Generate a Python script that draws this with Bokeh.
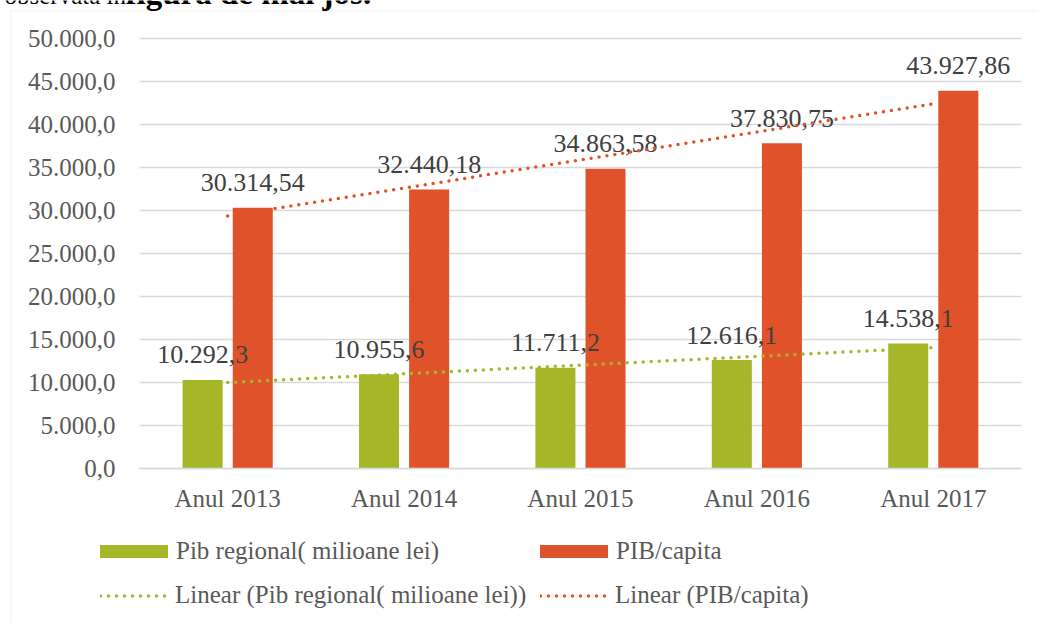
from bokeh.plotting import figure
from bokeh.models import (ColumnDataSource, Range1d, FixedTicker, Legend, LegendItem,
                          BoxAnnotation, Label)
from bokeh.transform import dodge
from bokeh.core.properties import value
from bokeh.embed import file_html
from bokeh.resources import INLINE
import numpy as np

# ---- data ----
categories = ["Anul 2013", "Anul 2014", "Anul 2015", "Anul 2016", "Anul 2017"]
pib_regional = [10292.3, 10955.6, 11711.2, 12616.1, 14538.1]
pib_capita = [30314.54, 32440.18, 34863.58, 37830.75, 43927.86]
pib_regional_labels = ["10.292,3", "10.955,6", "11.711,2", "12.616,1", "14.538,1"]
pib_capita_labels = ["30.314,54", "32.440,18", "34.863,58", "37.830,75", "43.927,86"]
y_ticks = [0, 5000, 10000, 15000, 20000, 25000, 30000, 35000, 40000, 45000, 50000]
y_tick_labels = ["0,0", "5.000,0", "10.000,0", "15.000,0", "20.000,0", "25.000,0",
                 "30.000,0", "35.000,0", "40.000,0", "45.000,0", "50.000,0"]
series_names = ["Pib regional( milioane lei)", "PIB/capita"]
trend_names = ["Linear (Pib regional( milioane lei))", "Linear (PIB/capita)"]
heading_regular = "observată în "
heading_bold = "figura de mai jos."

# category positions on the x scale (1..n) and linear trendlines (least squares)
xi = np.arange(1, len(categories) + 1)
reg_trend = np.polyval(np.polyfit(xi, pib_regional, 1), xi)
cap_trend = np.polyval(np.polyfit(xi, pib_capita, 1), xi)

GREEN = "#A5B729"
ORANGE = "#E0532A"
GRID = "#D9D9D9"
FONT = "Liberation Serif"

src = ColumnDataSource(dict(xi=xi, reg=pib_regional, cap=pib_capita,
                            reg_lbl=pib_regional_labels, cap_lbl=pib_capita_labels,
                            reg_trend=reg_trend, cap_trend=cap_trend))

W, H = 1037, 623
p = figure(x_range=Range1d(-0.288, 5.591), y_range=Range1d(-18023, 54419),
           width=W, height=H, min_border=0,
           output_backend="svg", toolbar_location=None)
p.title.visible = False
p.outline_line_color = None
p.background_fill_color = "white"
p.border_fill_color = "white"

# y axis (drawn at the left edge of the plot area)
p.yaxis.fixed_location = 0.5
p.yaxis.bounds = (0, 50000)
p.yaxis.ticker = FixedTicker(ticks=y_ticks)
p.yaxis.major_label_overrides = {t: l for t, l in zip(y_ticks, y_tick_labels)}
p.yaxis.axis_line_color = None
p.yaxis.major_tick_line_color = None
p.yaxis.minor_tick_line_color = None
p.yaxis.major_tick_out = 0
p.yaxis.major_label_standoff = 24
p.yaxis.major_label_text_font = FONT
p.yaxis.major_label_text_font_size = "25px"
p.yaxis.major_label_text_color = "#595959"

# x axis (categories, drawn at y = 0)
p.xaxis.fixed_location = 0
p.xaxis.bounds = (0.5, 5.5)
p.xaxis.ticker = FixedTicker(ticks=list(xi))
p.xaxis.major_label_overrides = {int(i): c for i, c in zip(xi, categories)}
p.xaxis.axis_line_color = GRID
p.xaxis.axis_line_width = 1.5
p.xaxis.major_tick_line_color = None
p.xaxis.minor_tick_line_color = None
p.xaxis.major_tick_out = 0
p.xaxis.major_label_standoff = 16
p.xaxis.major_label_text_font = FONT
p.xaxis.major_label_text_font_size = "25px"
p.xaxis.major_label_text_color = "#595959"

p.xgrid.grid_line_color = None
yg = p.ygrid[0]
if "cross_bounds" in yg.properties():
    yg.cross_bounds = (0.5, 5.5)
    yg.grid_line_color = GRID
    yg.grid_line_width = 1.5
else:
    yg.grid_line_color = None
    p.segment(x0=0.5, x1=5.5, y0=y_ticks, y1=y_ticks, line_color=GRID, line_width=1.5,
              level="underlay")

off = 0.142
bw = 0.227
r1 = p.vbar(x=dodge("xi", -off), top="reg", width=bw, source=src,
            fill_color=GREEN, line_color=None)
r2 = p.vbar(x=dodge("xi", off), top="cap", width=bw, source=src,
            fill_color=ORANGE, line_color=None)

for xo, col in ((-off, "reg"), (off, "cap")):
    p.text(x=dodge("xi", xo), y=col, text=col + "_lbl", source=src,
           text_align="center", text_baseline="middle", y_offset=-25,
           text_font=value(FONT), text_font_size="26px", text_color="#404040")

t1 = p.line(x="xi", y="reg_trend", source=src, line_color=GREEN, line_width=3.5,
            line_dash="0 8", line_cap="round")
t2 = p.line(x="xi", y="cap_trend", source=src, line_color=ORANGE, line_width=3.5,
            line_dash="0 8", line_cap="round")

# legend: two rows (bars / trendlines), two aligned columns
leg_kw = dict(border_line_color=None, background_fill_alpha=0, padding=0, margin=0,
              orientation="horizontal", spacing=0, label_height=30,
              label_text_font=FONT, label_text_font_size="25px",
              label_text_color="#595959")
leg_bars = Legend(items=[LegendItem(label=series_names[0], renderers=[r1]),
                         LegendItem(label=series_names[1], renderers=[r2])],
                  location=(91, 57), glyph_width=85, glyph_height=16, label_standoff=0,
                  label_width=355, **leg_kw)
leg_lines = Legend(items=[LegendItem(label=trend_names[0], renderers=[t1]),
                          LegendItem(label=trend_names[1], renderers=[t2])],
                   location=(100, 13), glyph_width=68, glyph_height=13, label_standoff=7,
                   label_width=365, **leg_kw)
p.add_layout(leg_bars, "center")
p.add_layout(leg_lines, "center")

# chart-area border (light grey, left and top edges visible)
p.add_layout(BoxAnnotation(left=10.5, right=3000, top=H - 10.5, bottom=-3000,
                           left_units="screen", right_units="screen",
                           top_units="screen", bottom_units="screen",
                           fill_alpha=0, line_color=GRID, line_width=1.2,
                           level="underlay"))

# heading text of the page, cut at the top
p.add_layout(Label(x=4, y=H + 5, x_units="screen", y_units="screen", text=heading_regular,
                   text_font=FONT, text_font_size="25px", text_color="#000000",
                   text_baseline="middle"))
p.add_layout(Label(x=125, y=H + 8, x_units="screen", y_units="screen", text=heading_bold,
                   text_font=FONT, text_font_size="33px", text_font_style="bold",
                   text_color="#000000", text_baseline="middle"))

open("out.html", "w").write(file_html(p, INLINE))
